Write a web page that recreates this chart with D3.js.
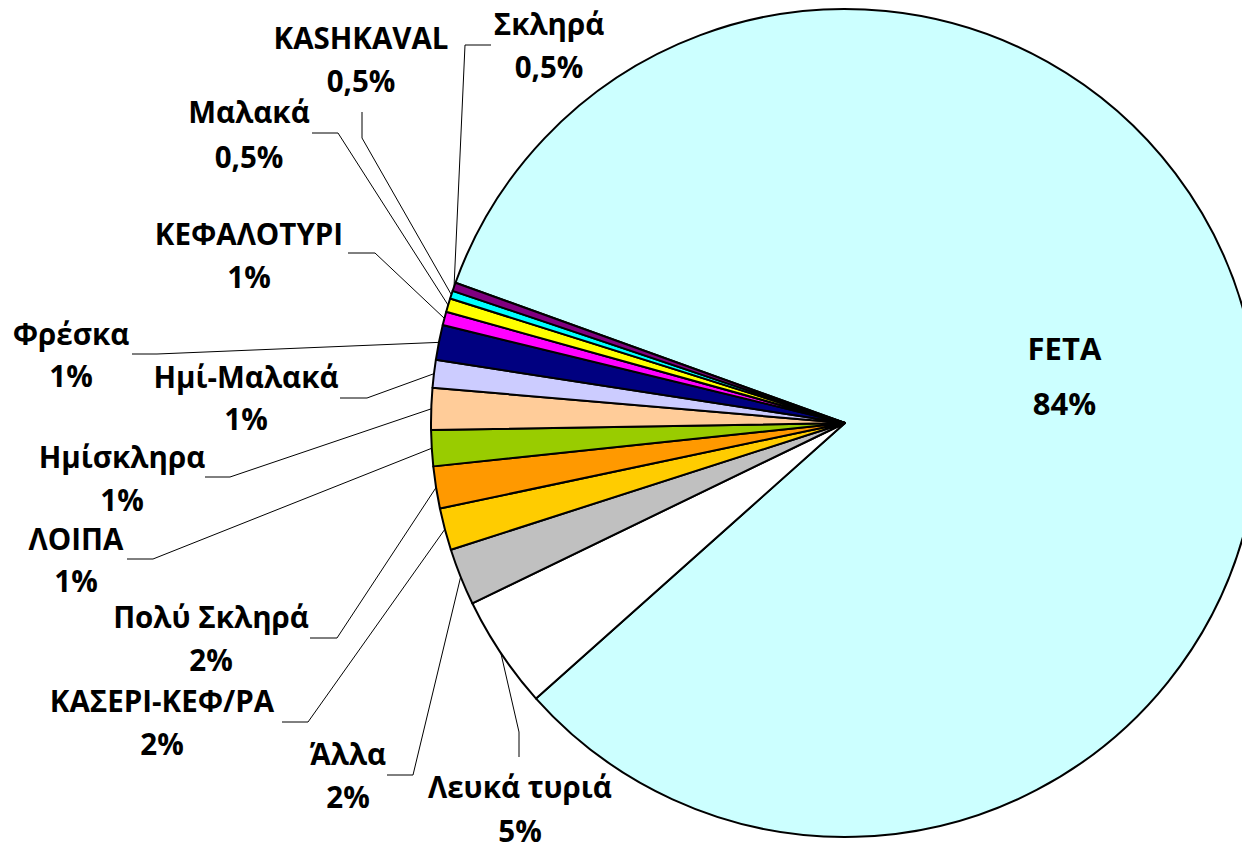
<!DOCTYPE html>
<html>
<head>
<meta charset="utf-8">
<script src="https://cdn.jsdelivr.net/npm/d3@7"></script>
<style>
  body { margin: 0; background: #fff; }
  .label { font-family: "Open Sans", sans-serif; font-weight: bold; font-size: 29.5px; fill: #000; }
  .label.inside { font-size: 31px; }
  .leader { fill: none; stroke: #000; stroke-width: 1; }
</style>
</head>
<body>
<div class="piechart"></div>
<script>
// Categories in the order the slices go round (clockwise from FETA)
var categories = ["FETA", "Λευκά τυριά", "Άλλα", "ΚΑΣΕΡΙ-ΚΕΦ/ΡΑ", "Πολύ Σκληρά", "ΛΟΙΠΑ",
                  "Ημίσκληρα", "Ημί-Μαλακά", "Φρέσκα", "ΚΕΦΑΛΟΤΥΡΙ", "Μαλακά", "KASHKAVAL", "Σκληρά"];
// Share of each slice
var values = [82.9, 4.42, 2.22, 1.64, 1.64, 1.40, 1.63, 1.08, 1.36, 0.53, 0.53, 0.31, 0.33];
// Percent text shown on the labels
var pctLabels = ["84%", "5%", "2%", "2%", "2%", "1%", "1%", "1%", "1%", "1%", "0,5%", "0,5%", "0,5%"];
var colors = ["#CCFFFF", "#FFFFFF", "#C0C0C0", "#FFCC00", "#FF9900", "#99CC00",
              "#FFCC99", "#CCCCFF", "#000080", "#FF00FF", "#FFFF00", "#00FFFF", "#800080"];

// Label layout: text centre x, first baseline y, line gap, and the leader stub (two points)
var labelLayout = [
  {x: 1063, y: 359, gap: 55, stub: null},
  {x: 520, y: 798, gap: 44, stub: [[519, 757], [519, 732]]},
  {x: 348, y: 765, gap: 43, stub: [[387, 775], [413, 775]]},
  {x: 162, y: 712, gap: 43, stub: [[282, 722], [308, 722]]},
  {x: 211, y: 628, gap: 43, stub: [[310, 638], [337, 638]]},
  {x: 76, y: 550, gap: 42, stub: [[127, 559], [153, 559]]},
  {x: 122, y: 468, gap: 43, stub: [[205, 477], [230, 477]]},
  {x: 246, y: 388, gap: 42, stub: [[340, 398], [367, 398]]},
  {x: 71, y: 345, gap: 42, stub: [[132, 354], [157, 354]]},
  {x: 249, y: 245, gap: 43, stub: [[348, 253], [375, 253]]},
  {x: 249, y: 123, gap: 45, stub: [[312, 133], [338, 133]]},
  {x: 361, y: 49, gap: 43, stub: [[362, 112], [362, 138]]},
  {x: 549, y: 35, gap: 43, stub: [[491, 45], [465, 45]]}
];

var width = 1242,
    height = 847,
    cx = 845,
    cy = 423,
    radius = 414;

var data = categories.map(function(c, i) {
  return {name: c, value: values[i], pct: pctLabels[i], color: colors[i], layout: labelLayout[i]};
});

var svg = d3.select(".piechart")
    .append("svg")
    .attr("width", width)
    .attr("height", height);

var g = svg.append("g")
    .attr("transform", "translate(" + cx + "," + cy + ")");

// FETA starts a little above the left-hand horizontal and runs clockwise
var start = -70.2 * Math.PI / 180;
var pie = d3.pie()
    .sort(null)
    .startAngle(start)
    .endAngle(start + 2 * Math.PI)
    .value(function(d) { return d.value; });

var arc = d3.arc()
    .innerRadius(0)
    .outerRadius(radius);

// Arc on the rim, its centroid gives where a leader line meets the pie
var rimArc = d3.arc()
    .innerRadius(radius)
    .outerRadius(radius);

// Arc used to place the FETA label inside its slice
var insideArc = d3.arc()
    .innerRadius(radius * 0.54)
    .outerRadius(radius * 0.54);

var arcs = pie(data);

g.selectAll(".slice")
    .data(arcs)
    .enter()
    .append("path")
      .attr("class", "slice")
      .attr("d", arc)
      .attr("fill", function(d) { return d.data.color; })
      .attr("stroke", "#000")
      .attr("stroke-width", 2)
      .attr("stroke-linejoin", "round");

// Leader lines from the label stub to the rim
var line = d3.line();
svg.selectAll(".leader")
    .data(arcs.filter(function(d) { return d.data.layout.stub; }))
    .enter()
    .append("path")
      .attr("class", "leader")
      .attr("d", function(d) {
        var c = rimArc.centroid(d);
        var pts = d.data.layout.stub.concat([[cx + c[0], cy + c[1]]]);
        return line(pts);
      });

// Two-line labels: name, then percent
var labels = svg.selectAll(".label")
    .data(arcs)
    .enter()
    .append("text")
      .attr("class", function(d) { return d.data.layout.stub ? "label" : "label inside"; })
      .attr("text-anchor", "middle");

labels.each(function(d) {
  var lay = d.data.layout;
  var x = lay.x, y = lay.y;
  if (!lay.stub) {
    // inside label follows the slice centroid
    var c = insideArc.centroid(d);
    x = cx + c[0];
    y = cy + c[1] - 20;
  }
  var t = d3.select(this);
  t.append("tspan").attr("x", x).attr("y", y).text(d.data.name);
  t.append("tspan").attr("x", x).attr("y", y + lay.gap).text(d.data.pct);
});
</script>
</body>
</html>
